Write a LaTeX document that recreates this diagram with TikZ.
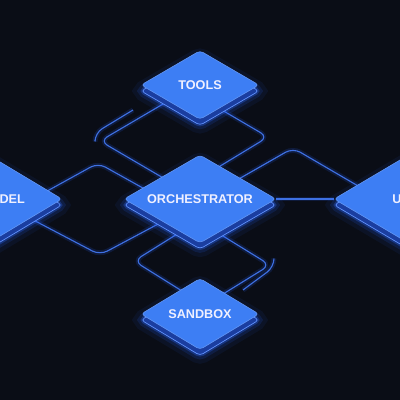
\documentclass[tikz,border=0pt]{standalone}
\usepackage{fontspec}
\setmainfont{Liberation Sans}
\usetikzlibrary{shapes.geometric,calc}
\definecolor{bgnavy}{RGB}{10,13,22}
\definecolor{facetop}{RGB}{61,126,244}
\definecolor{faceside}{RGB}{27,62,160}
\definecolor{edgeblue}{RGB}{96,146,255}
\definecolor{glowblue}{RGB}{40,100,255}
\definecolor{wireblue}{RGB}{62,112,226}
\pgfdeclarelayer{bg}
\pgfdeclarelayer{wires}
\pgfsetlayers{bg,wires,main}
\begin{document}
\begin{tikzpicture}[x=0.025cm,y=-0.025cm,
    slabbase/.style={diamond, aspect=1.7, inner sep=0pt, fill=faceside,
        draw=edgeblue, line width=0.5pt, rounded corners=2.5pt,
        preaction={draw=glowblue, line width=13pt, draw opacity=0.07},
        preaction={draw=glowblue, line width=7pt, draw opacity=0.14},
        preaction={draw=glowblue, line width=3pt, draw opacity=0.3}},
    slabtop/.style={diamond, aspect=1.7, inner sep=0pt, fill=facetop,
        draw=facetop!80!white, line width=0.4pt, rounded corners=2.5pt},
    blocktext/.style={text=white!94!blue, font=\bfseries\fontsize{9}{10}\selectfont},
    wire/.style={draw=wireblue, line width=0.8pt, rounded corners=6pt,
        preaction={draw=glowblue, line width=3.5pt, draw opacity=0.16}}]
                \useasboundingbox (0,0) rectangle (400,400);
                \begin{pgfonlayer}{bg}
                \fill[bgnavy] (0,0) rectangle (400,400);
                \end{pgfonlayer}

                % Marking block TOOLS
                \node[slabbase, minimum width=2.95cm, minimum height=1.72cm] (toolsbase) at (200,91) {};
                \node[slabtop, minimum width=2.95cm, minimum height=1.72cm, blocktext] (tools) at (200,85) {TOOLS};

                % Marking block ORCHESTRATOR
                \node[slabbase, minimum width=3.8cm, minimum height=2.2cm] (orchbase) at (200,205) {};
                \node[slabtop, minimum width=3.8cm, minimum height=2.2cm, blocktext] (orch) at (200,199) {ORCHESTRATOR};

                % Marking block MODEL
                \node[slabbase, minimum width=3.75cm, minimum height=2.25cm] (modelbase) at (-13,205) {};
                \node[slabtop, minimum width=3.75cm, minimum height=2.25cm] (model) at (-13,199) {};
                \node[blocktext] (modeltext) at (2,199) {MODEL};

                % Marking block USER
                \node[slabbase, minimum width=3.8cm, minimum height=2.25cm] (userbase) at (410,205) {};
                \node[slabtop, minimum width=3.8cm, minimum height=2.25cm, blocktext] (user) at (410,199) {USER};

                % Marking block SANDBOX
                \node[slabbase, minimum width=2.95cm, minimum height=1.78cm] (sandboxbase) at (200,320) {};
                \node[slabtop, minimum width=2.95cm, minimum height=1.78cm, blocktext] (sandbox) at (200,314) {SANDBOX};

                \begin{pgfonlayer}{wires}
                % Drawing wire TOOLS ORCHESTRATOR (left)
                \draw[wire] ($(tools)+(-25,12)$) -- (100,141) -- ($(orch)+(-35,-20)$);%
                \draw[wire] (133,110) -- (95,133) -- (95,140);%

                % Drawing wire TOOLS ORCHESTRATOR (right)
                \draw[wire] ($(tools)+(15,21)$) -- (268,137) -- ($(orch)+(12,-28)$);%

                % Drawing wire ORCHESTRATOR USER
                \draw[wire] ($(orch)+(30,-15)$) -- (293,148) -- ($(user)+(-45,-9)$);%
                \draw[wire] (orch.east) -- (user.west);%

                % Drawing wire MODEL ORCHESTRATOR
                \draw[wire] ($(model)+(53,-4)$) -- (98,163) -- ($(orch)+(-50,-7)$);%
                \draw[wire] ($(model)+(33,14)$) -- (100,255) -- ($(orch)+(-25,16)$);%

                % Drawing wire ORCHESTRATOR SANDBOX
                \draw[wire] ($(orch)+(-10,27)$) -- (134,261) -- ($(sandbox)+(-10,-18)$);%
                \draw[wire] ($(orch)+(10,29)$) -- (270,265) -- ($(sandbox)+(15,-15)$);%
                \draw[wire] (274,259) -- (274,267) -- (243,290);%
                \end{pgfonlayer}
            \end{tikzpicture}
\end{document}
